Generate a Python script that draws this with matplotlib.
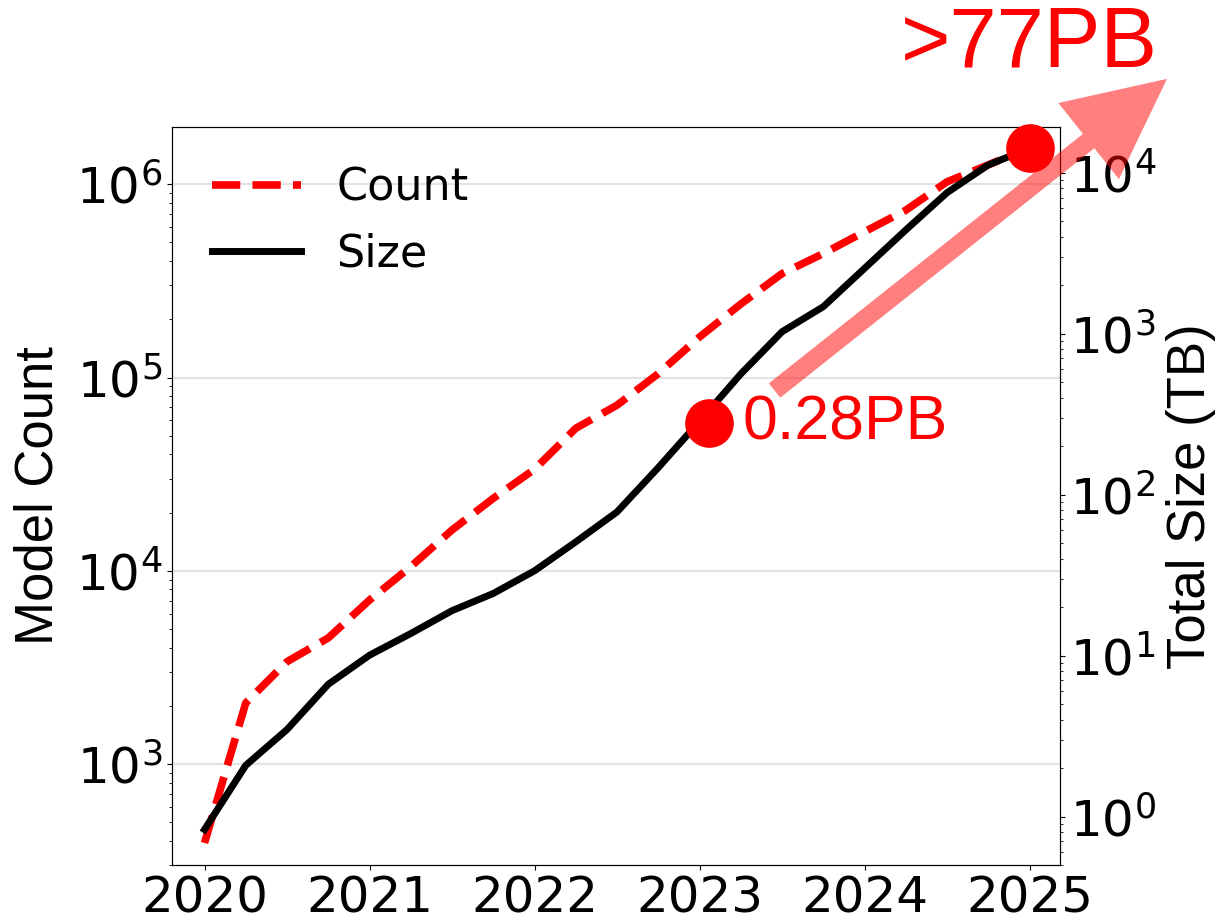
import matplotlib

matplotlib.use("Agg")
import matplotlib.pyplot as plt

# quarterly snapshots, as decimal years
years = [
    2020.0, 2020.25, 2020.5, 2020.75,
    2021.0, 2021.25, 2021.5, 2021.75,
    2022.0, 2022.25, 2022.5, 2022.75,
    2023.0, 2023.25, 2023.5, 2023.75,
    2024.0, 2024.25, 2024.5, 2024.75,
    2025.0,
]
model_count = [
    390, 2070, 3385, 4490,
    7050, 10500, 16250, 23700,
    33500, 54600, 71900, 104700,
    162000, 240000, 345000, 438000,
    568000, 734000, 1030000, 1260000,
    1550000,
]
total_size_tb = [
    0.83, 2.08, 3.47, 6.63,
    10.05, 13.7, 19.0, 24.3,
    33.6, 50.8, 78.0, 147.0,
    285.0, 561.0, 1026.0, 1468.0,
    2540.0, 4400.0, 7500.0, 11150.0,
    14160.0,
]

year_ticks = [2020, 2021, 2022, 2023, 2024, 2025]

milestone_years = [2023.06, 2025.0]
milestone_sizes_tb = [280.0, 14160.0]
milestone_label = "0.28PB"
projection_label = ">77PB"

LABEL_FONT = "Liberation Sans"


def main() -> None:
    fig = plt.figure(figsize=(12.19, 9.14), dpi=100)
    ax1 = fig.add_axes([0.1411, 0.0536, 0.7285, 0.8075])
    ax2 = ax1.twinx()

    count_line, = ax1.plot(years, model_count, color="red", linestyle="--",
                           linewidth=5.5, label="Count")
    size_line, = ax2.plot(years, total_size_tb, color="black", linewidth=5,
                          label="Size")

    ax1.set_yscale("log")
    ax2.set_yscale("log")
    ax1.set_xlim(2019.803, 2025.185)
    ax1.set_ylim(300, 1.98e6)
    ax2.set_ylim(0.5, 1.92e4)

    ax1.set_xticks(year_ticks)
    ax1.set_xticklabels([str(y) for y in year_ticks])
    ax1.tick_params(labelsize=36)
    ax1.tick_params(axis="x", pad=3)
    ax2.tick_params(labelsize=36)
    ax1.grid(axis="y", which="major", color="#b0b0b0", alpha=0.35, linewidth=1.5)

    ax1.set_ylabel("Model Count", fontsize=38, fontfamily=LABEL_FONT, labelpad=9)
    ax2.set_ylabel("Total Size (TB)", fontsize=38, fontfamily=LABEL_FONT, labelpad=7)

    ax1.legend([count_line, size_line], ["Count", "Size"], loc="upper left",
               frameon=False, fontsize=32)

    # growth arrow pointing past the top-right corner
    ax2.annotate(
        "",
        xy=(2025.833, 3.82e4),
        xytext=(2023.455, 443),
        arrowprops=dict(
            arrowstyle="simple,head_length=72,head_width=70,tail_width=13.2",
            mutation_scale=1,
            color="red",
            alpha=0.5,
            linewidth=0,
            shrinkA=0,
            shrinkB=0,
        ),
        annotation_clip=False,
        zorder=4,
    )

    ax2.plot(milestone_years, milestone_sizes_tb, linestyle="none", marker="o",
             markersize=34, color="red", clip_on=False, zorder=5)
    ax2.text(milestone_years[0] + 0.2, milestone_sizes_tb[0], milestone_label,
             color="red", fontsize=45, fontfamily=LABEL_FONT,
             ha="left", va="center", zorder=5)
    ax2.annotate(projection_label, xy=(milestone_years[1], 0.9513),
                 xycoords=("data", "figure fraction"), ha="center", va="center",
                 color="red", fontsize=61, fontfamily=LABEL_FONT,
                 annotation_clip=False)

    fig.savefig("out.png", dpi=100)


if __name__ == "__main__":
    main()
